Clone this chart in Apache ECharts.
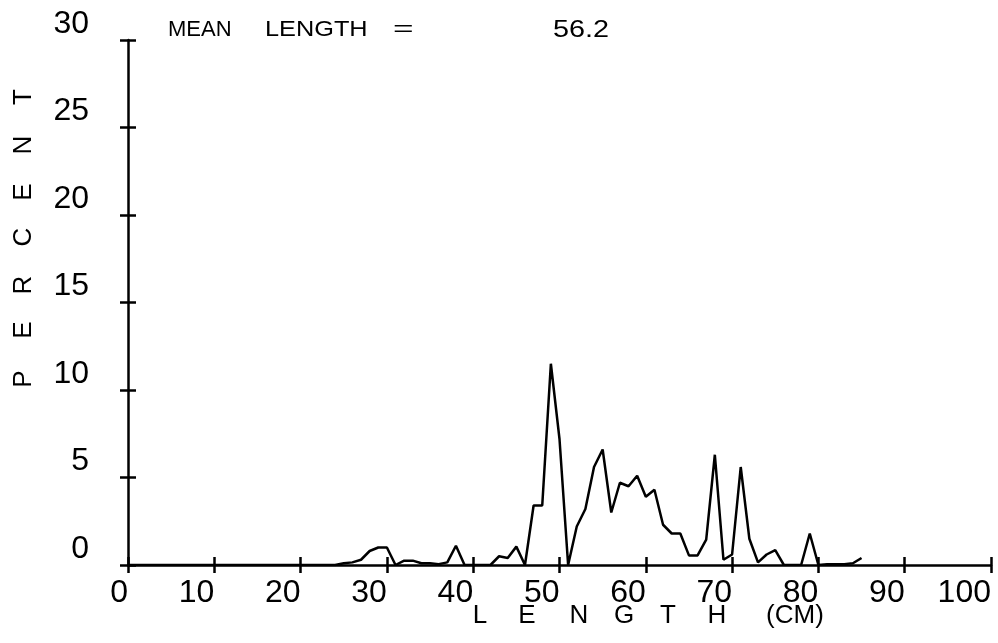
<!DOCTYPE html>
<html>
<head>
<meta charset="utf-8">
<script src="https://cdn.jsdelivr.net/npm/echarts@6/dist/echarts.min.js"></script>
<style>
html,body{margin:0;padding:0;background:#fff;}
#chart{width:998px;height:643px;}
</style>
</head>
<body>
<div id="chart"></div>
<script>
// ---- data ----
var lengthsCm = [0,1,2,3,4,5,6,7,8,9,10,11,12,13,14,15,16,17,18,19,20,21,22,23,24,
  25,26,27,28,29,30,31,32,33,34,35,36,37,38,39,40,41,42,43,44,45,46,47,48,49,50,
  51,52,53,54,55,56,57,58,59,60,61,62,63,64,65,66,67,68,69,70,71,72,73,74,75,76,
  77,78,79,80,81,82,83,84,85];
var percentValues = [0,0,0,0,0,0,0,0,0,0,0,0,0,0,0,0,0,0,0,0,0,0,0,0,0,
  0.1,0.15,0.3,0.8,1.0,1.0,0,0.25,0.25,0.1,0.1,0.05,0.15,1.1,0,0,0,0,0.5,0.4,1.05,0,3.4,3.4,11.5,7.2,
  0,2.2,3.2,5.6,6.6,3.0,4.7,4.5,5.1,3.9,4.3,2.3,1.8,1.8,0.55,0.55,1.45,6.3,0.3,0.6,5.6,1.5,0.15,0.6,0.85,0,
  0,0,1.8,0,0.05,0.05,0.05,0.1,0.4];
var xTicks = [0,10,20,30,40,50,60,70,80,90,100];
var yTicks = [0,5,10,15,20,25,30];
var titleWords = ['MEAN', 'LENGTH', '='];
var meanValue = '56.2';
var xTitleLetters = ['L','E','N','G','T','H','(CM)'];
var yTitleLetters = ['P','E','R','C','E','N','T'];

// ---- layout/style ----
var FONT = 'Liberation Sans';
var INK = '#000';
var seriesData = lengthsCm.map(function (x, i) { return [x, percentValues[i]]; });

var titleX = [168, 265, 393];
var titleScale = [1.0, 1.15, 1.6];
var xTitleX = [480, 527, 579, 624, 668, 717, 795];
var yTitleY = [379, 330, 285, 237, 192, 145, 97];

var graphics = [];
titleWords.forEach(function (w, i) {
  graphics.push({type:'text', x:titleX[i], y:30, scaleX:titleScale[i],
    style:{text:w, font:'22px "' + FONT + '"', fill:INK, textAlign:'left', textVerticalAlign:'middle'}});
});
graphics.push({type:'text', x:553, y:30, scaleX:1.2,
  style:{text:meanValue, font:'24px "' + FONT + '"', fill:INK, textAlign:'left', textVerticalAlign:'middle'}});
xTitleLetters.forEach(function (l, i) {
  graphics.push({type:'text', x:xTitleX[i], y:616,
    style:{text:l, font:'26px "' + FONT + '"', fill:INK, textAlign:'center', textVerticalAlign:'middle'}});
});
yTitleLetters.forEach(function (l, i) {
  graphics.push({type:'text', x:24, y:yTitleY[i], rotation:Math.PI/2,
    style:{text:l, font:'26px "' + FONT + '"', fill:INK, textAlign:'center', textVerticalAlign:'middle'}});
});

var axisLabelStyle = {fontFamily:FONT, fontSize:32, color:INK};

var chart = echarts.init(document.getElementById('chart'), null, {renderer:'canvas'});
chart.setOption({
  animation:false,
  backgroundColor:'#fff',
  grid:{left:128, right:7, top:40, bottom:78, containLabel:false},
  xAxis:[
    {type:'value', min:xTicks[0], max:xTicks[xTicks.length-1], interval:10, position:'bottom',
     axisLine:{show:true, lineStyle:{color:INK, width:2.5}},
     axisTick:{show:true, inside:false, length:8, lineStyle:{color:INK, width:2.5}},
     axisLabel:Object.assign({show:true, margin:12, align:'right'}, axisLabelStyle),
     splitLine:{show:false}},
    {type:'value', min:xTicks[0], max:xTicks[xTicks.length-1], interval:10, position:'bottom', offset:0,
     axisLine:{show:false},
     axisTick:{show:true, inside:true, length:8, lineStyle:{color:INK, width:2.5}},
     axisLabel:{show:false}, splitLine:{show:false}}
  ],
  yAxis:[
    {type:'value', min:yTicks[0], max:yTicks[yTicks.length-1], interval:5, position:'left',
     axisLine:{show:true, lineStyle:{color:INK, width:2.5}},
     axisTick:{show:true, inside:false, length:8, lineStyle:{color:INK, width:2.5}},
     axisLabel:Object.assign({show:true, margin:39, align:'right', verticalAlign:'bottom'}, axisLabelStyle),
     splitLine:{show:false}},
    {type:'value', min:yTicks[0], max:yTicks[yTicks.length-1], interval:5, position:'left', offset:0,
     axisLine:{show:false},
     axisTick:{show:true, inside:true, length:8, lineStyle:{color:INK, width:2.5}},
     axisLabel:{show:false}, splitLine:{show:false}}
  ],
  series:[{
    type:'line', xAxisIndex:0, yAxisIndex:0, data:seriesData,
    showSymbol:false, symbol:'none', smooth:false,
    lineStyle:{color:INK, width:2.5}
  }],
  graphic:graphics
});
</script>
</body>
</html>
